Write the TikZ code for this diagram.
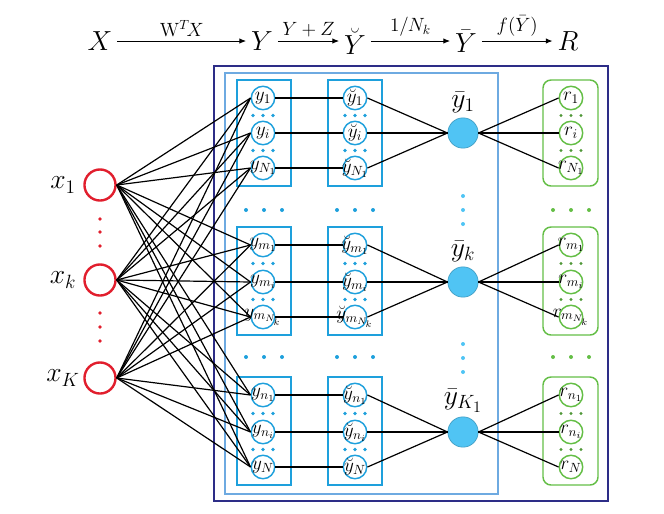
\documentclass[tikz,border=0pt]{standalone}
\usetikzlibrary{arrows.meta}
\newcommand{\inunit}[1]{\makebox[0pt]{$#1$}}
\begin{document}
\begin{tikzpicture}[x=0.0264cm, y=-0.0264cm, line width=0.9pt,
  unit/.style={circle, draw=cUnit, line width=1.1pt, minimum size=0.62cm,
    inner sep=0pt, font=\Large},
  runit/.style={unit, draw=cRes},
  xunit/.style={circle, draw=cIn, line width=1.8pt, minimum size=0.82cm, inner sep=0pt},
  bunit/.style={circle, fill=cBar, draw=cBar!80!black, line width=0.5pt,
    minimum size=0.8cm, inner sep=0pt},
  grp/.style={draw=cUnit, line width=1.1pt},
  rgrp/.style={draw=cRes, line width=1.1pt, rounded corners=6pt},
  hop/.style={-{Latex[length=5pt,width=4pt]}, line width=0.7pt},
  hlab/.style={font=\Large, inner sep=3pt}]

\definecolor{cUnit}{RGB}{30,160,220}
\definecolor{cBar}{RGB}{80,196,244}
\definecolor{cRes}{RGB}{100,190,70}
\definecolor{cIn}{RGB}{225,30,45}
\definecolor{cOuter}{RGB}{45,45,135}
\definecolor{cInner}{RGB}{110,170,225}

\useasboundingbox (0,0) rectangle (664,513);

%% ---------- header: the chain of maps ----------
\node[font=\huge] (hX) at (100,41) {$X$};
\node[font=\huge] (hY) at (262,41) {$Y$};
\node[font=\huge] (hYb) at (355,41) {$\breve{Y}$};
\node[font=\huge] (hYm) at (466,41) {$\bar{Y}$};
\node[font=\huge] (hR) at (568,41) {$R$};
\draw[hop] (hX) -- node[hlab, above] {$\mathrm{W}^T\! X$} (hY);
\draw[hop] (hY) -- node[hlab, above] {$Y+Z$} (hYb);
\draw[hop] (hYb) -- node[hlab, above] {$1/N_k$} (hYm);
\draw[hop] (hYm) -- node[hlab, above] {$f(\bar{Y})$} (hR);

%% ---------- frames ----------
\draw[cOuter, line width=1.2pt] (214,66) rectangle (608,501);
\draw[cInner, line width=1.1pt] (225,73) rectangle (498,494);

%% ---------- inputs ----------
\foreach \i/\yy/\lbl in {1/185/1, 2/280/k, 3/378/K} {
  \node[xunit] (x\i) at (100,\yy) {};
  \node[font=\huge] at (63,\yy) {$x_{\lbl}$};
}
\foreach \yy in {219,232,246,313,327,341}
  \fill[cIn] (100,\yy) circle (1.8);

%% ---------- three groups of units ----------
\foreach \g/\ya/\yb/\yc/\la/\lb/\lc/\ma/\mb/\mc/\bl in {
    1/98/133/168/1/i/{N_1}/1/i/{N_1}/1,
    2/245/282/317/{m_1}/{m_i}/{m_{N_k}}/{m_1}/{m_i}/{m_{N_k}}/k,
    3/395/432/467/{n_1}/{n_i}/N/{n_1}/{n_i}/N/{K_1}} {
  \pgfmathsetmacro\ytop{\ya-18}
  \pgfmathsetmacro\ybot{\yc+18}
  \pgfmathsetmacro\dA{(\ya+\yb)/2}
  \pgfmathsetmacro\dB{(\yb+\yc)/2}
  \pgfmathsetmacro\ylab{\yb-31}
  \draw[grp] (237,\ytop) rectangle (291,\ybot);
  \draw[grp] (328,\ytop) rectangle (382,\ybot);
  \draw[rgrp] (543,\ytop) rectangle (598,\ybot);
  \node[unit] (y\g1) at (263,\ya) {\inunit{y_{\la}}};
  \node[unit] (y\g2) at (263,\yb) {\inunit{y_{\lb}}};
  \node[unit] (y\g3) at (263,\yc) {\inunit{y_{\lc}}};
  \node[unit] (z\g1) at (355,\ya) {\inunit{\breve{y}_{\la}}};
  \node[unit] (z\g2) at (355,\yb) {\inunit{\breve{y}_{\lb}}};
  \node[unit] (z\g3) at (355,\yc) {\inunit{\breve{y}_{\lc}}};
  \node[runit] (r\g1) at (571,\ya) {\inunit{r_{\ma}}};
  \node[runit] (r\g2) at (571,\yb) {\inunit{r_{\mb}}};
  \node[runit] (r\g3) at (571,\yc) {\inunit{r_{\mc}}};
  \node[bunit] (m\g) at (463,\yb) {};
  \node[font=\huge] at (463,\ylab) {$\bar{y}_{\bl}$};
  \foreach \j in {1,2,3} {
    \draw (y\g\j) -- (z\g\j);
    \draw (z\g\j.east) -- (m\g.west);
    \draw (m\g.east) -- (r\g\j.west);
  }
  %% dots inside the boxes
  \foreach \yy in {\dA,\dB} {
    \foreach \dx in {-10,0,10} {
      \fill[cUnit] (263+\dx,\yy) circle (1.8);
      \fill[cUnit] (355+\dx,\yy) circle (1.8);
      \fill[cRes!80!black] (571+\dx,\yy) circle (1.6);
    }
  }
}

%% ---------- dots between the groups ----------
\foreach \yy in {210,357} {
  \foreach \dx in {-18,0,18} {
    \fill[cUnit] (264+\dx,\yy) circle (2);
    \fill[cUnit] (355+\dx,\yy) circle (2);
    \fill[cRes] (571+\dx,\yy) circle (2);
  }
}
\foreach \yy in {196,210,224,344,358,372}
  \fill[cBar] (463,\yy) circle (2);

%% ---------- inputs to every first-layer unit ----------
\foreach \i in {1,2,3}
  \foreach \g in {1,2,3}
    \foreach \j in {1,2,3}
      \draw (x\i.east) -- (y\g\j.west);

\end{tikzpicture}
\end{document}
